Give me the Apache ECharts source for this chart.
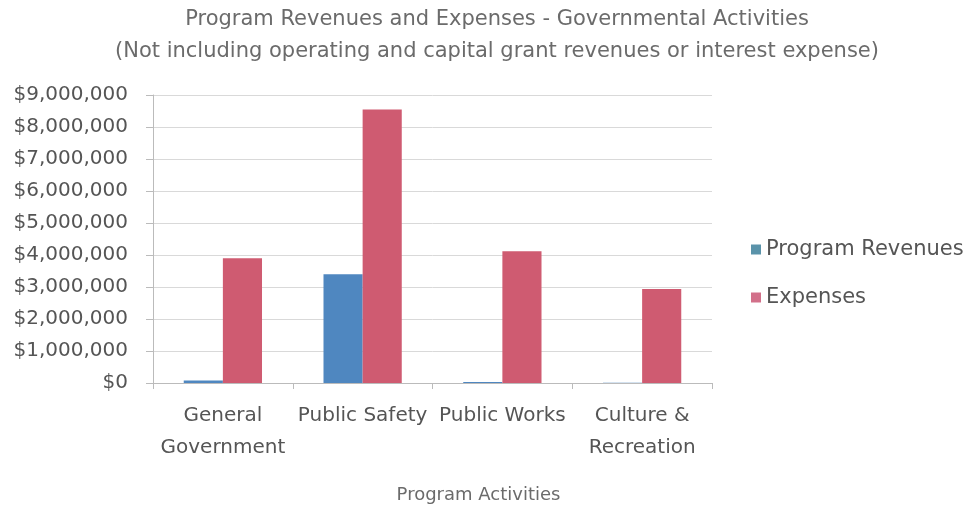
<!DOCTYPE html>
<html>
<head>
<meta charset="utf-8">
<script src="https://cdn.jsdelivr.net/npm/echarts@6/dist/echarts.min.js"></script>
<style>
  html, body { margin: 0; padding: 0; background: #fff; }
  #chart { width: 968px; height: 505px; }
</style>
</head>
<body>
<div id="chart"></div>
<script>
const categories = ["General\nGovernment", "Public Safety", "Public Works", "Culture &\nRecreation"]
const programRevenues = [80000, 3400000, 30000, 10000]
const expenses = [3900000, 8550000, 4120000, 2940000]

const font = "DejaVu Sans"
const chart = echarts.init(document.getElementById("chart"))

const option = {
  animation: false,
  backgroundColor: "#fff",
  title: {
    text: "Program Revenues and Expenses - Governmental Activities\n(Not including operating and capital grant revenues or interest expense)",
    left: 492,
    textAlign: "center",
    top: -1,
    textStyle: {
      fontFamily: font,
      fontSize: 21,
      fontWeight: "normal",
      color: "#6b6b6b",
      lineHeight: 32,
    },
  },
  legend: {
    orient: "vertical",
    left: 746,
    top: 234,
    itemGap: 27,
    itemWidth: 10,
    itemHeight: 10,
    icon: "rect",
    textStyle: { fontFamily: font, fontSize: 21, color: "#555" },
    data: [
      { name: "Program Revenues", itemStyle: { color: "#5a93aa" } },
      { name: "Expenses", itemStyle: { color: "#d2708a" } },
    ],
  },
  grid: { left: 153, right: 256, top: 95, bottom: 122, outerBoundsMode: "none" },
  xAxis: {
    type: "category",
    data: categories,
    name: "Program Activities",
    nameLocation: "middle",
    nameGap: 103,
    nameTextStyle: { fontFamily: font, fontSize: 18, color: "#6b6b6b", padding: [0, 0, 0, 92] },
    axisLine: { lineStyle: { color: "#bbb" } },
    axisTick: { show: true, length: 6, lineStyle: { color: "#bbb" } },
    axisLabel: {
      fontFamily: font,
      fontSize: 20,
      color: "#555",
      lineHeight: 32,
      margin: 17,
      interval: 0,
    },
  },
  yAxis: {
    type: "value",
    min: 0,
    max: 9000000,
    interval: 1000000,
    axisLine: { show: true, lineStyle: { color: "#bbb" } },
    axisTick: { show: true, length: 7, lineStyle: { color: "#bbb" } },
    splitLine: { lineStyle: { color: "#d9d9d9" } },
    axisLabel: {
      fontFamily: font,
      fontSize: 20,
      color: "#555",
      margin: 25,
      formatter: (v) => "$" + v.toLocaleString("en-US"),
    },
  },
  series: [
    {
      name: "Program Revenues",
      type: "bar",
      data: programRevenues,
      barGap: "0%",
      barCategoryGap: "44%",
      itemStyle: { color: "#4f87c0" },
    },
    {
      name: "Expenses",
      type: "bar",
      data: expenses,
      itemStyle: { color: "#cf5b71" },
    },
  ],
}

chart.setOption(option)
</script>
</body>
</html>
